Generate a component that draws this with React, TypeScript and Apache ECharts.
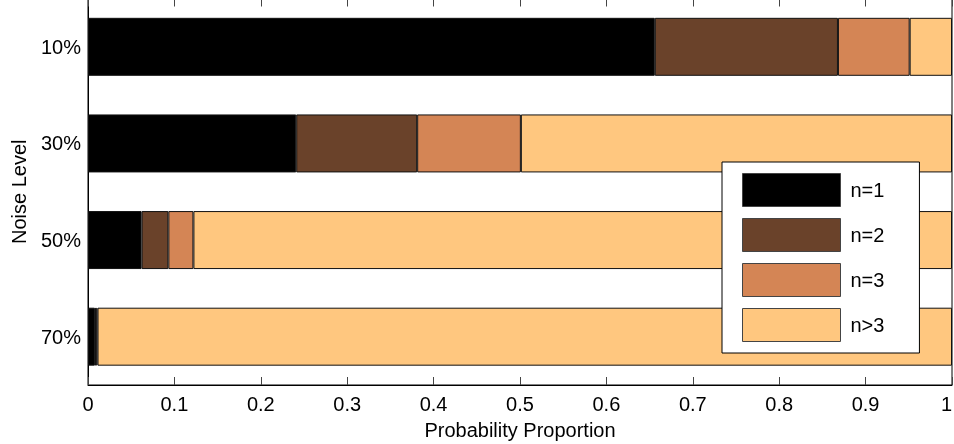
import React, { useEffect, useRef } from "react";
import * as echarts from "echarts";

const categories = ["10%", "30%", "50%", "70%"];
const seriesNames = ["n=1", "n=2", "n=3", "n>3"];
const n1 = [0.656, 0.241, 0.062, 0.008];
const n2 = [0.212, 0.14, 0.031, 0.0015];
const n3 = [0.083, 0.12, 0.029, 0.0015];
const nMore = [0.049, 0.499, 0.878, 0.989];
const colors = ["#000000", "#6A422A", "#D48555", "#FFC77F"];
const xTickLabels = ["0", "0.1", "0.2", "0.3", "0.4", "0.5", "0.6", "0.7", "0.8", "0.9", "1"];

const FONT = "'Liberation Sans', Arial, sans-serif";

export default function App() {
  const ref = useRef<HTMLDivElement>(null);
  useEffect(() => {
    if (!ref.current) return;
    const chart = echarts.init(ref.current, null, { renderer: "svg" });
    const values = [n1, n2, n3, nMore];
    chart.setOption({
      animation: false,
      textStyle: { fontFamily: FONT },
      grid: {
        left: 88,
        right: 2,
        top: -1.5,
        bottom: 59,
        containLabel: false,
        outerBoundsMode: "none",
        show: true,
        borderColor: "#000",
        borderWidth: 1,
        backgroundColor: "transparent",
      },
      legend: {
        orient: "vertical",
        left: 722,
        top: 162,
        itemWidth: 98,
        itemHeight: 33,
        itemGap: 11,
        padding: [11, 35, 11, 20],
        backgroundColor: "#fff",
        borderColor: "#000",
        borderWidth: 1,
        icon: "rect",
        data: seriesNames,
        itemStyle: { borderColor: "#444", borderWidth: 1 },
        textStyle: {
          fontFamily: FONT,
          fontSize: 20,
          color: "#000",
          padding: [0, 0, 0, 5],
        },
      },
      xAxis: [
        {
          type: "value",
          min: 0,
          max: 1,
          interval: 0.1,
          position: "bottom",
          name: "Probability Proportion",
          nameLocation: "middle",
          nameGap: 35,
          nameTextStyle: { fontFamily: FONT, fontSize: 20, color: "#000" },
          axisLine: { show: true, lineStyle: { color: "#000", width: 1 } },
          axisTick: { show: true, inside: true, length: 8, lineStyle: { color: "#444" } },
          axisLabel: {
            margin: 9,
            fontFamily: FONT,
            fontSize: 20,
            color: "#000",
            alignMaxLabel: "right",
            formatter: (v: number) => xTickLabels[Math.round(v * 10)] ?? String(v),
          },
          splitLine: { show: false },
        },
        {
          type: "value",
          min: 0,
          max: 1,
          interval: 0.1,
          position: "top",
          axisLine: { show: true, lineStyle: { color: "#000", width: 1 } },
          axisTick: { show: true, inside: true, length: 8, lineStyle: { color: "#444" } },
          axisLabel: { show: false },
          splitLine: { show: false },
        },
      ],
      yAxis: {
        type: "category",
        data: categories,
        inverse: true,
        name: "Noise Level",
        nameLocation: "middle",
        nameGap: 59,
        nameRotate: 90,
        nameTextStyle: { fontFamily: FONT, fontSize: 20, color: "#000" },
        axisLine: { show: true, lineStyle: { color: "#000", width: 1 } },
        axisTick: { show: false },
        axisLabel: { margin: 7, fontFamily: FONT, fontSize: 20, color: "#000" },
      },
      series: seriesNames.map((name, i) => ({
        name,
        type: "bar",
        stack: "total",
        xAxisIndex: 0,
        barWidth: "60%",
        data: values[i],
        itemStyle: { color: colors[i], borderColor: "#111", borderWidth: 1 },
        emphasis: { disabled: true },
      })),
    });
    return () => chart.dispose();
  }, []);
  return (
    <div
      ref={ref}
      style={{ position: "fixed", left: 0, top: 0, width: 954, height: 444 }}
    />
  );
}
